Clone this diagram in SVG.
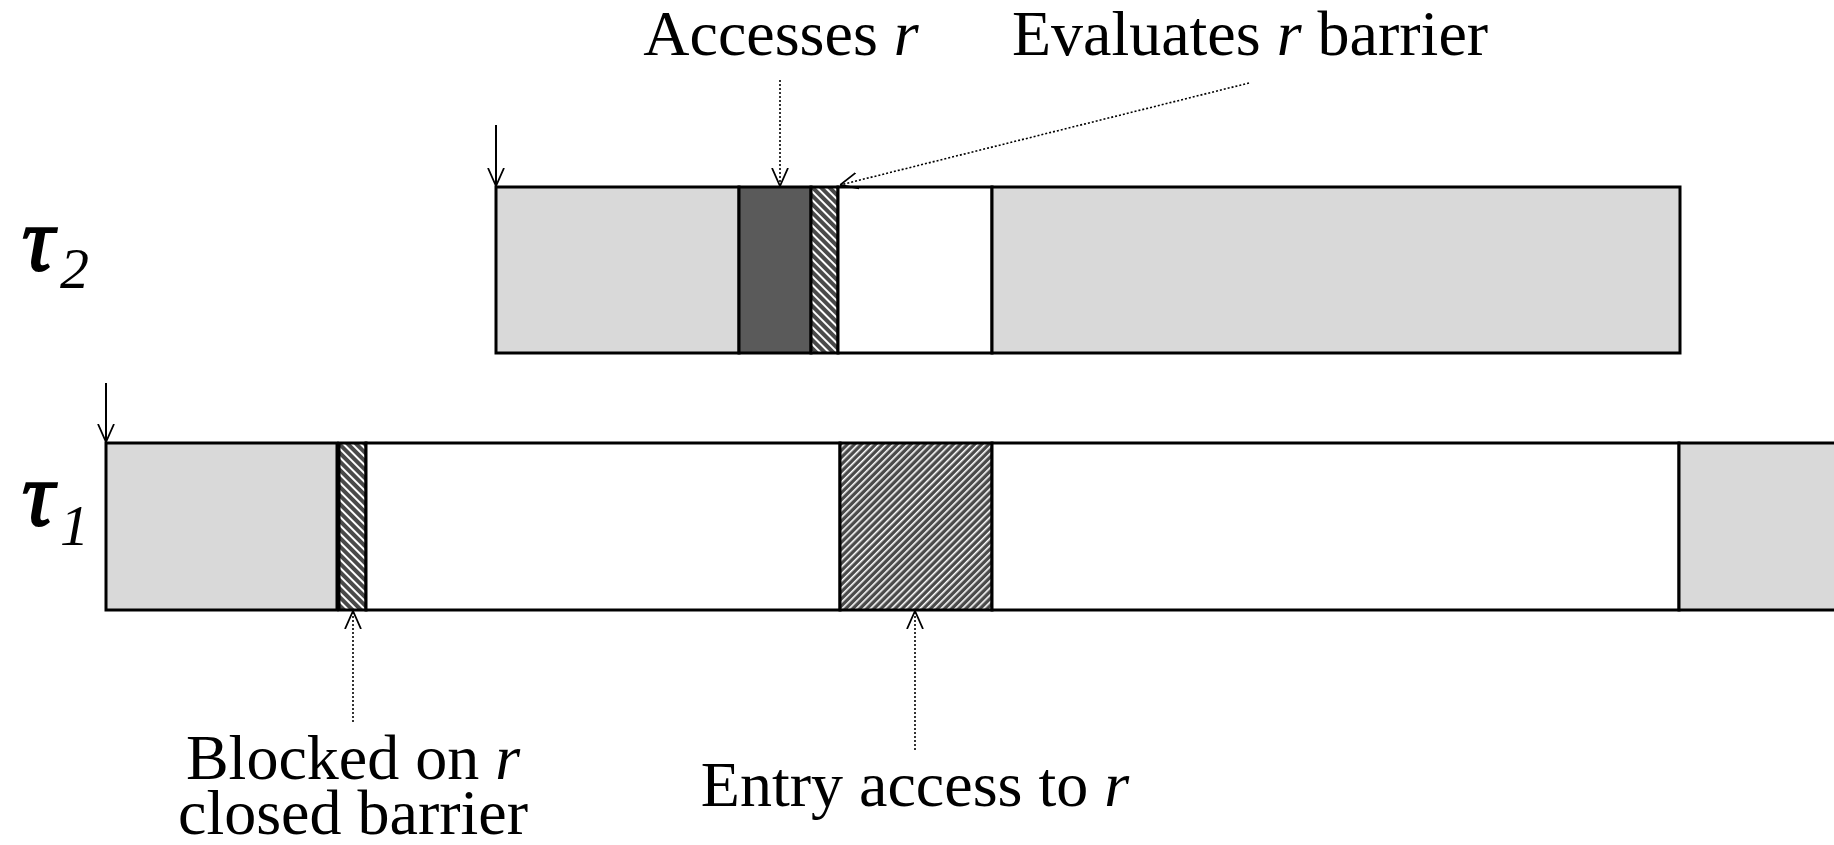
<svg xmlns="http://www.w3.org/2000/svg" width="1834" height="845" viewBox="0 0 1834 845">
<style>
.seg{stroke:#000;stroke-width:3}
.gray{fill:#d9d9d9}
.white{fill:#fff}
.dark{fill:#5a5a5a}
.lbl{font-family:"Liberation Serif","Times New Roman",serif;font-size:64px;fill:#000}
.tau{font-family:"Liberation Serif","Times New Roman",serif;font-style:italic;fill:#000}
.dot{stroke:#000;stroke-width:1.6;stroke-dasharray:2,2;fill:none}
.solid{stroke:#000;stroke-width:2;fill:none}
</style>
<defs>
<pattern id="hatchA" patternUnits="userSpaceOnUse" width="6" height="6" patternTransform="rotate(-45)">
<rect width="6" height="6" fill="#4a4a4a"/>
<rect x="0" y="0" width="2" height="6" fill="#fff"/>
</pattern>
<pattern id="hatchB" patternUnits="userSpaceOnUse" width="5" height="5" patternTransform="rotate(45)">
<rect width="5" height="5" fill="#4a4a4a"/>
<rect x="0" y="0" width="1.6" height="5" fill="#fff"/>
</pattern>
<marker id="vh" viewBox="0 0 18 18" refX="18" refY="9" markerWidth="18" markerHeight="18" markerUnits="userSpaceOnUse" orient="auto">
<path d="M0,1 L18,9 L0,17" fill="none" stroke="#000" stroke-width="1.8"/>
</marker>
</defs>

<g id="label-tau2">
<text class="tau" x="22" y="270" font-size="90" stroke="#000" stroke-width="2">τ</text>
<text class="tau" x="60" y="288" font-size="58">2</text>
</g>
<g id="label-tau1">
<text class="tau" x="22" y="525" font-size="90" stroke="#000" stroke-width="2">τ</text>
<text class="tau" x="60" y="545" font-size="58">1</text>
</g>

<g id="tau2-bar">
<rect class="seg gray" x="496" y="187" width="243" height="166"/>
<rect class="seg dark" x="739" y="187" width="72" height="166"/>
<rect class="seg" x="811" y="187" width="27" height="166" fill="url(#hatchA)"/>
<rect class="seg white" x="838" y="187" width="154" height="166"/>
<rect class="seg gray" x="992" y="187" width="688" height="166"/>
</g>

<g id="tau1-bar">
<rect class="seg gray" x="106" y="443" width="231" height="167"/>
<rect class="seg" x="339" y="443" width="27" height="167" fill="url(#hatchA)"/>
<rect class="seg white" x="366" y="443" width="474" height="167"/>
<rect class="seg" x="840" y="443" width="152" height="167" fill="url(#hatchB)"/>
<rect class="seg white" x="992" y="443" width="687" height="167"/>
<rect class="seg gray" x="1679" y="443" width="170" height="167"/>
</g>

<g id="label-accesses">
<text class="lbl" x="781" y="55" text-anchor="middle">Accesses <tspan font-style="italic">r</tspan></text>
</g>
<g id="label-evaluates">
<text class="lbl" x="1250" y="55" text-anchor="middle">Evaluates <tspan font-style="italic">r</tspan> barrier</text>
</g>
<g id="label-blocked">
<text class="lbl" x="353" y="779" text-anchor="middle">Blocked on <tspan font-style="italic">r</tspan></text>
<text class="lbl" x="353" y="834" text-anchor="middle">closed barrier</text>
</g>
<g id="label-entry">
<text class="lbl" x="915" y="806" text-anchor="middle">Entry access to <tspan font-style="italic">r</tspan></text>
</g>

<g id="connectors">
<line class="solid" x1="496" y1="125" x2="496" y2="186" marker-end="url(#vh)"/>
<line class="solid" x1="106" y1="383" x2="106" y2="442" marker-end="url(#vh)"/>
<line class="dot" x1="780" y1="80" x2="780" y2="186" marker-end="url(#vh)"/>
<line class="dot" x1="1249" y1="83" x2="840" y2="185" marker-end="url(#vh)"/>
<line class="dot" x1="353" y1="722" x2="353" y2="611" marker-end="url(#vh)"/>
<line class="dot" x1="915" y1="750" x2="915" y2="611" marker-end="url(#vh)"/>
</g>
</svg>
